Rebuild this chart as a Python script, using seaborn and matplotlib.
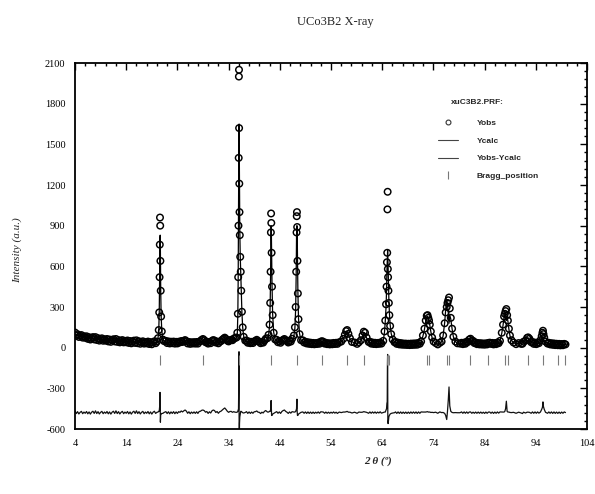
import numpy as np
import pandas as pd
import matplotlib
matplotlib.use("Agg")
import matplotlib.pyplot as plt
import seaborn as sns
from matplotlib.lines import Line2D
from matplotlib.ticker import MultipleLocator

# ---------------- data ----------------
two_theta = [
    # background 4-20
    4.0, 4.25, 4.5, 4.75, 5.0, 5.25, 5.5, 5.75,
    6.0, 6.25, 6.5, 6.75, 7.0, 7.25, 7.5, 7.75,
    8.0, 8.25, 8.5, 8.75, 9.0, 9.25, 9.5, 9.75,
    10.0, 10.25, 10.5, 10.75, 11.0, 11.25, 11.5, 11.75,
    12.0, 12.25, 12.5, 12.75, 13.0, 13.25, 13.5, 13.75,
    14.0, 14.25, 14.5, 14.75, 15.0, 15.25, 15.5, 15.75,
    16.0, 16.25, 16.5, 16.75, 17.0, 17.25, 17.5, 17.75,
    18.0, 18.25, 18.5, 18.75, 19.0, 19.25, 19.5, 19.75,
    # peak ~20.6
    20.0, 20.2, 20.35, 20.45, 20.52, 20.56, 20.60, 20.64, 20.68, 20.74, 20.82, 20.95, 21.15, 21.4,
    # background 21.75-35.25
    21.75, 22.0, 22.25, 22.5, 22.75, 23.0, 23.25, 23.5,
    23.75, 24.0, 24.25, 24.5, 24.75, 25.0, 25.25, 25.5,
    25.75, 26.0, 26.25, 26.5, 26.75, 27.0, 27.25, 27.5,
    27.75, 28.0, 28.25, 28.5, 28.75, 29.0, 29.25, 29.5,
    29.75, 30.0, 30.25, 30.5, 30.75, 31.0, 31.25, 31.5,
    31.75, 32.0, 32.25, 32.5, 32.75, 33.0, 33.25, 33.5,
    33.75, 34.0, 34.25, 34.5, 34.75, 35.0, 35.25,
    # peak ~36.0
    35.55, 35.7, 35.8, 35.87, 35.93, 35.97, 36.01, 36.03, 36.05, 36.09, 36.13, 36.19, 36.27,
    36.37, 36.47, 36.6, 36.75, 36.95, 37.25,
    # background 37.5-41.25
    37.5, 37.75, 38.0, 38.25, 38.5, 38.75, 39.0, 39.25, 39.5, 39.75, 40.0, 40.25, 40.5, 40.75,
    41.0, 41.25,
    # peak ~42.3
    41.6, 41.8, 42.0, 42.12, 42.2, 42.26, 42.3, 42.34, 42.4, 42.48, 42.6, 42.8, 43.1,
    # background 43.4-46.4
    43.4, 43.65, 43.9, 44.15, 44.4, 44.65, 44.9, 45.15, 45.4, 45.65, 45.9, 46.15, 46.4,
    # peak ~47.35
    46.75, 46.95, 47.1, 47.2, 47.27, 47.31, 47.35, 47.39, 47.45, 47.53, 47.65, 47.85, 48.15,
    # background 48.5-55
    48.5, 48.75, 49.0, 49.25, 49.5, 49.75, 50.0, 50.25, 50.5, 50.75, 51.0, 51.25, 51.5, 51.75,
    52.0, 52.25, 52.5, 52.75, 53.0, 53.25, 53.5, 53.75, 54.0, 54.25, 54.5, 54.75, 55.0,
    # peak ~57.1
    55.25, 55.6, 56.0, 56.4, 56.7, 56.95, 57.15, 57.4, 57.7, 58.1, 58.6, 59.1,
    # peak ~60.4
    59.45, 59.85, 60.15, 60.4, 60.65, 60.95, 61.35, 61.6, 61.85, 62.1, 62.35, 62.6, 62.85,
    63.1, 63.35, 63.6, 63.85,
    # peak ~65.1
    64.2, 64.45, 64.6, 64.75, 64.85, 64.92, 64.98, 65.02, 65.06, 65.1, 65.15, 65.22, 65.3,
    65.4, 65.55, 65.75, 66.05, 66.4,
    # background 66.6-71.6
    66.6, 66.85, 67.1, 67.35, 67.6, 67.85, 68.1, 68.35, 68.6, 68.85, 69.1, 69.35, 69.6, 69.85,
    70.1, 70.35, 70.6, 70.85, 71.1, 71.35, 71.6,
    # peak ~72.9
    71.95, 72.25, 72.5, 72.7, 72.85, 73.0, 73.15, 73.3, 73.5, 73.75, 74.05, 74.45, 74.85, 75.25,
    # peak ~77.0
    75.6, 75.9, 76.2, 76.4, 76.6, 76.75, 76.9, 77.05, 77.2, 77.4, 77.65, 77.9, 78.3, 78.7, 79.2,
    # background 79.5-87 (small peak ~81.2)
    79.5, 79.75, 80.0, 80.25, 80.5, 80.75, 81.0, 81.25, 81.5, 81.75, 82.0, 82.25, 82.5, 82.75,
    83.0, 83.25, 83.5, 83.75, 84.0, 84.25, 84.5, 84.75, 85.0, 85.25, 85.5, 85.75, 86.0, 86.25,
    86.5, 86.75, 87.0,
    # peak ~88.3
    87.35, 87.6, 87.8, 87.95, 88.1, 88.25, 88.4, 88.55, 88.75, 88.95, 89.25, 89.65, 90.15,
    90.65, 91.15,
    # peak ~92.6
    91.4, 91.6, 92.0, 92.3, 92.5, 92.75, 93.1, 93.35, 93.6, 93.85, 94.1, 94.35, 94.6,
    # peak ~95.4 and tail
    94.9, 95.15, 95.3, 95.4, 95.5, 95.65, 95.9, 96.3, 96.55, 96.8, 97.05, 97.3, 97.55, 97.8,
    98.05, 98.3, 98.55, 98.8, 99.05, 99.3, 99.55, 99.8,
]

y_obs = [
    112, 88, 99, 79, 88, 93, 74, 84,
    73, 84, 65, 77, 60, 72, 78, 61,
    78, 57, 70, 52, 63, 69, 51, 62,
    52, 64, 46, 60, 43, 56, 62, 46,
    64, 43, 56, 39, 50, 56, 39, 50,
    40, 53, 35, 49, 32, 45, 52, 35,
    54, 33, 47, 29, 41, 47, 30, 41,
    32, 45, 27, 41, 25, 39, 47, 33,
    45, 70, 130, 260, 520, 760, 960, 900, 640, 420, 230, 120, 60, 48,
    50, 34, 46, 31, 44, 33, 45, 30,
    43, 31, 44, 39, 49, 42, 50, 56,
    48, 31, 42, 28, 40, 31, 41, 30,
    42, 30, 45, 48, 58, 64, 55, 40,
    44, 30, 42, 33, 50, 56, 52, 38,
    45, 32, 44, 48, 58, 66, 74, 64,
    52, 46, 54, 58, 55, 66, 72,
    75, 110, 250, 520, 900, 1400, 2000, 2050, 1620, 1210, 1000, 830, 670,
    560, 420, 265, 150, 80, 52,
    52, 36, 45, 33, 43, 34, 46, 50, 58, 48, 44, 33, 42, 37,
    52, 66,
    70, 95, 170, 330, 560, 850, 990, 920, 700, 450, 240, 110, 60,
    58, 40, 48, 36, 50, 58, 64, 55, 48, 38, 50, 45, 66,
    90, 150, 300, 560, 850, 970, 1000, 890, 640, 400, 210, 100, 55,
    54, 38, 44, 31, 40, 28, 37, 26, 35, 25, 34, 27, 37, 29,
    44, 48, 43, 30, 36, 26, 33, 24, 32, 25, 35, 27, 36,
    28, 40, 45, 65, 95, 122, 130, 102, 70, 42, 38, 28,
    40, 55, 90, 118, 110, 75, 42, 44, 30, 38, 27, 36, 26,
    35, 28, 38, 30,
    50, 120, 200, 320, 450, 630, 700, 1020, 1150, 580, 520, 420, 330,
    240, 160, 100, 60, 40,
    42, 28, 37, 24, 34, 22, 31, 21, 30, 20, 29, 19, 30, 20,
    31, 21, 32, 22, 35, 29, 46,
    90, 140, 200, 235, 240, 220, 200, 170, 120, 75, 45, 34, 24, 36,
    45, 90, 180, 260, 300, 330, 350, 370, 290, 220, 140, 80, 45, 32, 30,
    36, 26, 37, 29, 44, 42, 60, 66, 52, 50, 34, 38, 26, 34,
    24, 33, 23, 31, 22, 32, 24, 35, 37, 28, 35, 24, 34, 26,
    38, 33, 50,
    110, 170, 230, 250, 270, 285, 240, 200, 140, 90, 55, 38, 26,
    34, 28,
    29, 44, 52, 72, 76, 66, 40, 42, 28, 37, 26, 38, 33,
    55, 85, 110, 125, 100, 75, 45, 30, 36, 24, 33, 21, 31, 19,
    29, 18, 28, 17, 27, 18, 28, 24,
]

y_calc = [
    98, 94, 91, 88, 85, 83, 81, 79,
    77, 75, 73, 71, 70, 68, 67, 66,
    64, 63, 62, 61, 60, 59, 58, 57,
    56, 55, 54, 54, 53, 52, 51, 51,
    50, 49, 48, 48, 47, 46, 46, 45,
    44, 44, 43, 43, 42, 41, 41, 40,
    40, 39, 39, 38, 38, 37, 37, 36,
    36, 36, 35, 35, 35, 35, 36, 38,
    42, 65, 120, 250, 480, 740, 810, 830, 710, 430, 240, 125, 65, 46,
    42, 40, 39, 39, 38, 38, 37, 37,
    37, 36, 36, 36, 36, 36, 36, 36,
    36, 35, 35, 35, 35, 35, 35, 35,
    35, 35, 36, 37, 40, 44, 40, 36,
    35, 35, 35, 35, 36, 36, 36, 36,
    36, 36, 37, 37, 38, 38, 39, 40,
    41, 43, 45, 48, 52, 58, 68,
    72, 105, 240, 500, 880, 1250, 1550, 1600, 1650, 1420, 1080, 860, 680,
    550, 410, 260, 150, 82, 50,
    44, 41, 39, 38, 38, 38, 39, 42, 45, 44, 41, 39, 38, 39,
    42, 50,
    65, 90, 160, 320, 540, 820, 900, 880, 720, 470, 250, 115, 58,
    50, 44, 42, 41, 41, 42, 44, 45, 44, 43, 44, 48, 58,
    85, 145, 290, 540, 820, 890, 900, 880, 660, 420, 220, 105, 52,
    48, 42, 38, 36, 34, 33, 32, 31, 30, 30, 30, 30, 31, 33,
    37, 42, 38, 34, 31, 30, 29, 28, 28, 28, 29, 30, 32,
    33, 35, 44, 60, 90, 115, 120, 98, 66, 44, 34, 32,
    35, 52, 86, 110, 104, 72, 46, 38, 34, 32, 30, 30, 30,
    30, 30, 31, 33,
    48, 115, 195, 300, 420, 560, 620, 680, 720, 650, 600, 480, 360,
    260, 170, 105, 62, 40,
    36, 33, 31, 29, 28, 27, 26, 26, 25, 25, 24, 24, 24, 24,
    25, 25, 26, 27, 29, 33, 40,
    85, 135, 195, 228, 232, 215, 195, 165, 118, 72, 44, 30, 28, 30,
    44, 88, 185, 280, 350, 320, 260, 180, 240, 210, 138, 80, 44, 32, 30,
    30, 30, 31, 33, 38, 46, 55, 60, 56, 46, 38, 33, 30, 29,
    28, 28, 27, 27, 27, 27, 28, 30, 32, 32, 30, 29, 29, 30,
    32, 36, 44,
    105, 165, 225, 240, 240, 200, 230, 195, 135, 88, 54, 35, 30,
    30, 30,
    35, 40, 54, 68, 72, 63, 44, 36, 32, 31, 30, 32, 36,
    50, 60, 70, 45, 55, 50, 42, 34, 30, 28, 27, 26, 25, 24,
    24, 23, 23, 22, 22, 22, 22, 23,
]

bragg_pos = [20.6, 29.0, 36.0, 42.3, 47.4, 52.2, 57.1, 60.4, 64.9, 65.3, 72.75, 73.1,
             76.7, 77.0, 81.1, 84.7, 88.0, 88.6, 92.5, 95.4, 98.3, 99.7]
bragg_level = -90
diff_offset = -480

assert len(two_theta) == len(y_obs) == len(y_calc), (len(two_theta), len(y_obs), len(y_calc))

df = pd.DataFrame({"two_theta": two_theta, "Yobs": y_obs, "Ycalc": y_calc})
df["Yobs-Ycalc"] = df["Yobs"] - df["Ycalc"] + diff_offset
bragg = pd.DataFrame({"two_theta": bragg_pos, "level": [bragg_level] * len(bragg_pos)})

# ---------------- style ----------------
sns.set_theme(style="white")
plt.rcParams["font.family"] = ["Liberation Serif", "DejaVu Serif"]
plt.rcParams["axes.unicode_minus"] = False

fig = plt.figure(figsize=(5.95, 4.94), dpi=100)
ax = fig.add_axes([75 / 595, 1 - 429 / 494, (587 - 75) / 595, (429 - 63) / 494])

sns.lineplot(data=df, x="two_theta", y="Ycalc", ax=ax, color="black", lw=0.9,
             estimator=None, sort=False, zorder=2)
sns.scatterplot(data=df, x="two_theta", y="Yobs", ax=ax, marker="o", s=22,
                facecolor="none", edgecolor="black", linewidth=1.05, zorder=3)
sns.lineplot(data=df, x="two_theta", y="Yobs-Ycalc", ax=ax, color="#111111", lw=0.9,
             estimator=None, sort=False, zorder=2)
sns.scatterplot(data=bragg, x="two_theta", y="level", ax=ax, marker="|", s=55,
                color="#7a7a7a", linewidth=0.8, zorder=2)

ax.set_xlim(4, 104)
ax.set_ylim(-600, 2100)
ax.set_xticks(np.arange(4, 105, 10))
ax.set_yticks(np.arange(-600, 2101, 300))
ax.xaxis.set_minor_locator(MultipleLocator(2))
ax.yaxis.set_minor_locator(MultipleLocator(60))
ax.tick_params(which="both", direction="in", top=True, right=True, colors="black",
               labelsize=7.5, width=1.0, pad=7)
ax.tick_params(which="major", length=5)
ax.tick_params(which="minor", length=2.5)
for sp in ax.spines.values():
    sp.set_color("black")
    sp.set_linewidth(1.3)
ax.set_xlabel("")
ax.set_ylabel("")

fig.text(335 / 595, 1 - 22 / 494, "UCo3B2 X-ray", ha="center", va="center", fontsize=9)
fig.text(17 / 595, 1 - 250 / 494, "Intensity (a.u.)", rotation=90, ha="center", va="center",
         fontsize=8, style="italic")
fig.text(378 / 595, 1 - 461 / 494, "2 θ (º)", ha="center", va="center", fontsize=8,
         style="italic", weight="bold")

# legend
fig.text(477 / 595, 1 - 103 / 494, "xuC3B2.PRF:", ha="center", va="center", fontsize=6,
         weight="bold", family=["Liberation Sans", "DejaVu Sans"])
handles = [
    Line2D([], [], marker="o", ls="none", mfc="none", mec="#333333", ms=3.5, mew=0.8),
    Line2D([], [], color="#444444", lw=0.8),
    Line2D([], [], color="#444444", lw=0.8),
    Line2D([], [], marker="|", ls="none", color="#777777", ms=6, mew=0.8),
]
labels = ["Yobs", "Ycalc", "Yobs-Ycalc", "Bragg_position"]
fig.legend(handles, labels, loc="upper left", bbox_to_anchor=(438 / 595, 1 - 119 / 494),
           frameon=False, borderpad=0, borderaxespad=0, handlelength=2.4, handletextpad=2.2,
           labelspacing=1.2, prop={"family": ["Liberation Sans", "DejaVu Sans"],
                                   "size": 6, "weight": "bold"})

fig.savefig("out.png", dpi=100)
